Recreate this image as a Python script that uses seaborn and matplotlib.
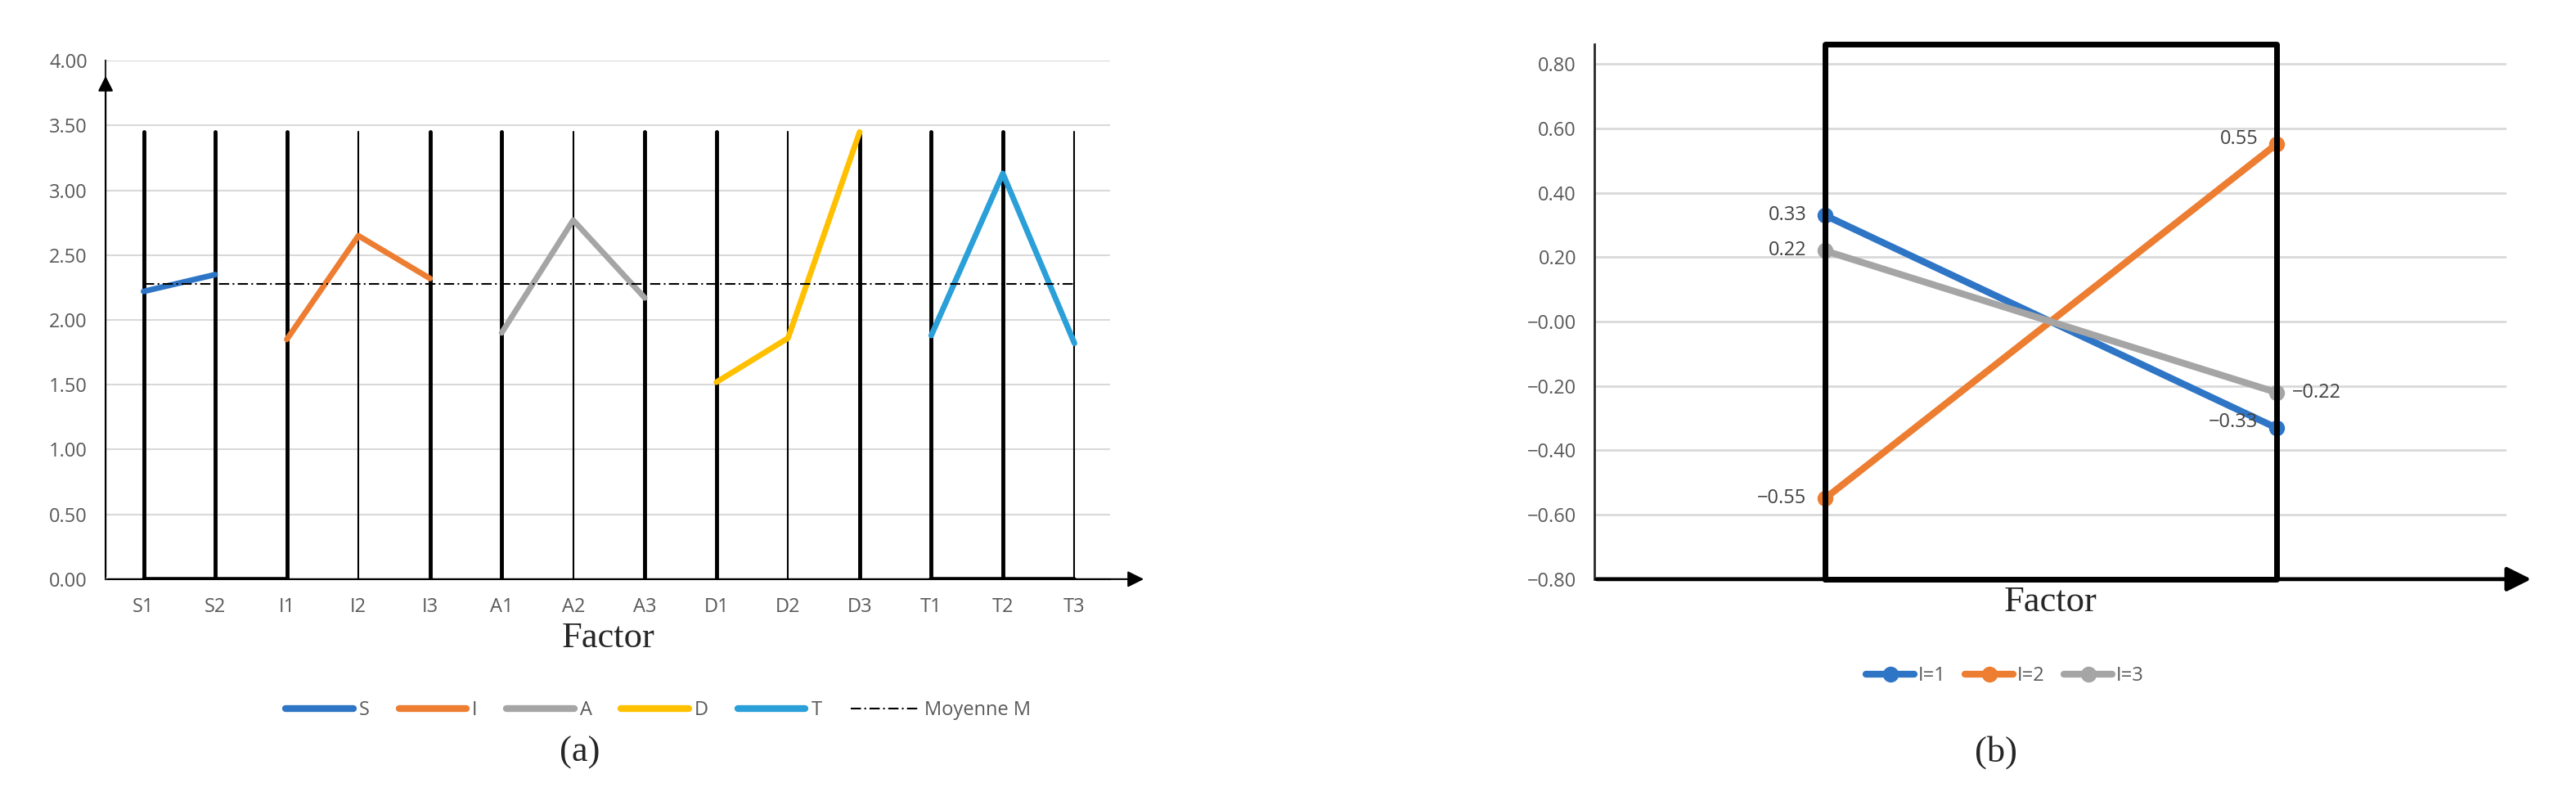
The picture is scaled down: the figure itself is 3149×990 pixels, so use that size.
import numpy as np
import pandas as pd
import seaborn as sns
import matplotlib.pyplot as plt

# panel (a) data
categories = ["S1", "S2", "I1", "I2", "I3", "A1", "A2", "A3", "D1", "D2", "D3", "T1", "T2", "T3"]
groups = ["S", "S", "I", "I", "I", "A", "A", "A", "D", "D", "D", "T", "T", "T"]
values = [2.22, 2.35, 1.85, 2.65, 2.32, 1.90, 2.77, 2.17, 1.52, 1.86, 3.45, 1.88, 3.13, 1.82]
mean_m = 2.28
thick = ["S1", "S2", "I1", "I3", "A1", "A3", "D1", "D3", "T1", "T2"]
group_colors = {"S": "#2E75C6", "I": "#ED7D31", "A": "#A5A5A5", "D": "#FFC000", "T": "#2A9FD8"}

# panel (b) data
levels = ["I=1", "I=2", "I=3"]
b_left = [0.33, -0.55, 0.22]
b_right = [-0.33, 0.55, -0.22]
b_colors = ["#2E75C6", "#ED7D31", "#A5A5A5"]

sns.set_style("white")
plt.rcParams["font.family"] = ["Open Sans", "DejaVu Sans"]

fig = plt.figure(figsize=(31.49, 9.9), dpi=100)
ax1 = fig.add_axes([0.041, 0.285, 0.39, 0.64])
ax2 = fig.add_axes([0.619, 0.285, 0.354, 0.66])

df = pd.DataFrame({"cat": categories, "grp": groups, "val": values})
df["x"] = np.arange(len(df))

for x, c in zip(df["x"], categories):
    ax1.plot([x, x], [0, 3.45], color="black", lw=3.5 if c in thick else 1.5, zorder=1)
sns.lineplot(data=df, x="x", y="val", hue="grp", palette=group_colors, lw=5,
             ax=ax1, legend=False, zorder=3, sort=False)
ax1.plot([0, len(df) - 1], [mean_m, mean_m], color="black", lw=1.5, ls=(0, (6, 2, 1, 2)), zorder=4)
ax1.plot([0, 2], [0, 0], color="black", lw=4, zorder=2)
ax1.plot([11, 13], [0, 0], color="black", lw=4, zorder=2)
ax1.set_xlim(-0.53, 13.5)
ax1.set_ylim(0, 4.0)
ax1.set_yticks(np.arange(0, 4.01, 0.5))
ax1.set_yticklabels([f"{v:.2f}" for v in np.arange(0, 4.01, 0.5)], fontsize=17, color="#595959")
ax1.set_xticks(df["x"])
ax1.set_xticklabels(categories, fontsize=17, color="#595959")
ax1.tick_params(axis="both", length=0, pad=16)
ax1.yaxis.grid(True, color="#D9D9D9", lw=1.5)
for s in ["top", "right"]:
    ax1.spines[s].set_visible(False)
ax1.spines["left"].set_linewidth(1.5)
ax1.spines["bottom"].set_linewidth(1.5)
ax1.annotate("", xy=(-0.53, 3.9), xytext=(-0.53, 0), xycoords="data",
             arrowprops=dict(arrowstyle="-|>", color="black", lw=1.5, mutation_scale=28))
ax1.annotate("", xy=(14.0, 0), xytext=(-0.53, 0), xycoords="data", annotation_clip=False,
             arrowprops=dict(arrowstyle="-|>", color="black", lw=1.5, mutation_scale=30))
ax1.set_xlabel("Factor", fontsize=32, family=["Liberation Serif"], labelpad=4)
ax1.set_ylabel("")
handles = [plt.Line2D([], [], color=group_colors[g], lw=6) for g in group_colors]
handles.append(plt.Line2D([], [], color="black", lw=1.5, ls=(0, (6, 2, 1, 2))))
ax1.legend(handles, list(group_colors) + ["Moyenne M"], loc="upper center",
           bbox_to_anchor=(0.55, -0.2), ncol=6, frameon=False, fontsize=17,
           labelcolor="#595959", handlelength=3.5, handletextpad=0.3, columnspacing=1.5)
fig.text(0.225, 0.06, "(a)", fontsize=32, family=["Liberation Serif"], ha="center")

# panel (b)
rows = []
for lv, l, r in zip(levels, b_left, b_right):
    rows.append({"lvl": lv, "x": 0, "y": l})
    rows.append({"lvl": lv, "x": 1, "y": r})
dfb = pd.DataFrame(rows)
sns.lineplot(data=dfb, x="x", y="y", hue="lvl", palette=b_colors, lw=6, marker="o",
             markersize=14, markeredgewidth=0, ax=ax2, legend=False, zorder=3)
ax2.plot([0, 0, 1, 1, 0], [-0.8, 0.86, 0.86, -0.8, -0.8], color="black", lw=5, zorder=4, clip_on=False)
for lv, l, r in zip(levels, b_left, b_right):
    ax2.annotate(f"{l:.2f}".replace("-", "\u2212"), (0, l), xytext=(-16, 0), textcoords="offset points",
                 ha="right", va="center", fontsize=17, color="#404040")
    off = 14 if lv == "I=3" else -16
    ax2.annotate(f"{r:.2f}".replace("-", "\u2212"), (1, r), xytext=(off, 0 if lv == "I=3" else 5),
                 textcoords="offset points", ha="left" if off > 0 else "right", va="center",
                 fontsize=17, color="#404040")
ax2.set_xlim(-0.51, 1.51)
ax2.set_ylim(-0.8, 0.86)
yt = np.arange(-0.8, 0.81, 0.2)
ax2.set_yticks(yt)
ax2.set_yticklabels([f"{v:.2f}".replace("-", "\u2212") for v in yt], fontsize=17, color="#595959")
ax2.set_xticks([])
ax2.tick_params(axis="y", length=0, pad=16)
ax2.yaxis.grid(True, color="#D9D9D9", lw=2)
ax2.set_axisbelow(True)
for s in ["top", "right"]:
    ax2.spines[s].set_visible(False)
ax2.spines["left"].set_linewidth(2)
ax2.spines["bottom"].set_visible(False)
ax2.annotate("", xy=(1.57, -0.8), xytext=(-0.51, -0.8), xycoords="data", annotation_clip=False,
             arrowprops=dict(arrowstyle="-|>", color="black", lw=3.5, mutation_scale=45))
ax2.set_xlabel("Factor", fontsize=32, family=["Liberation Serif"], labelpad=6)
ax2.set_ylabel("")
hb = [plt.Line2D([], [], color=c, lw=6, marker="o", markersize=13) for c in b_colors]
ax2.legend(hb, levels, loc="upper center", bbox_to_anchor=(0.45, -0.13), ncol=3, frameon=False,
           fontsize=17, labelcolor="#595959", handlelength=2.5, columnspacing=1.0, handletextpad=0.2)
fig.text(0.775, 0.06, "(b)", fontsize=32, family=["Liberation Serif"], ha="center")

fig.savefig("out.png", dpi=100)
